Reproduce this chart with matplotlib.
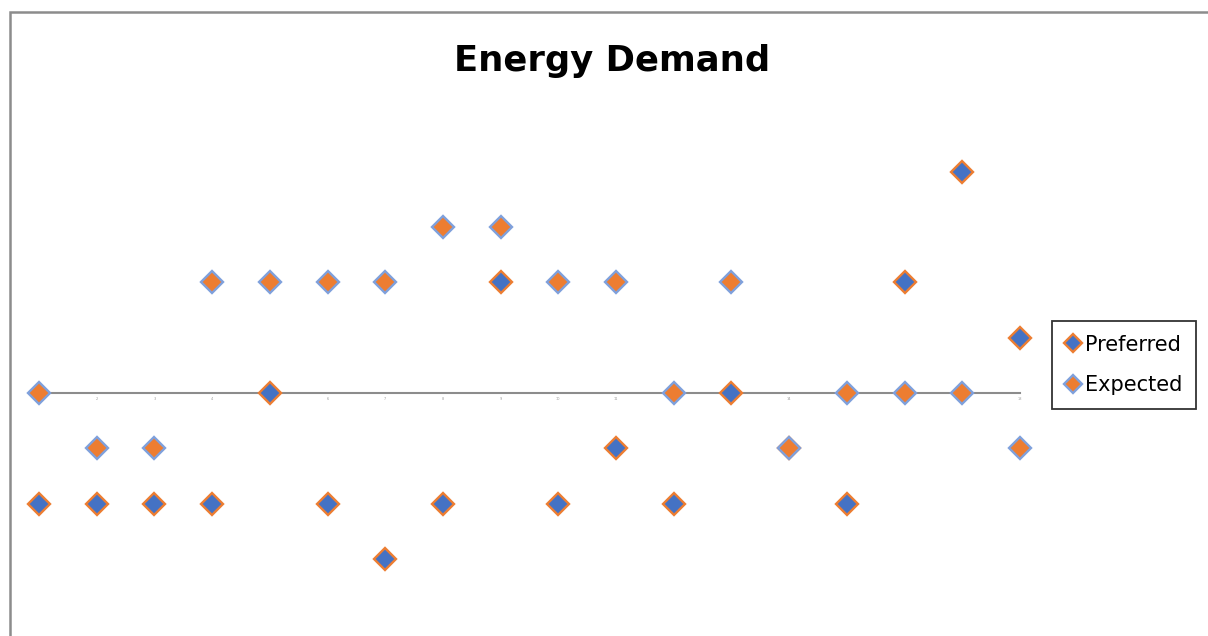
import matplotlib
matplotlib.use("Agg")
import matplotlib.pyplot as plt
from matplotlib.patches import Rectangle
import numpy as np

# Dados
x_vals = list(range(1, 19))
preferred = [-2, -2, -2, -2, 0, -2, -3, -2, 2, -2, -1, -2, 0, -1, -2, 2, 4, 1]
expected = [0, -1, -1, 2, 2, 2, 2, 3, 3, 2, 2, 0, 2, -1, 0, 0, 0, -1]

blue = "#4472C4"
orange = "#ED7D31"
light_blue = "#7FA0DC"

W, H = 1208, 636
fig = plt.figure(figsize=(W / 100, H / 100), dpi=100)

# eixo posicionado em pixels: x=1 em 39px, x=18 em 1020px, y=0 em 393px, 55.3px por unidade
x0, x1 = 39, 1020
y0_px, unit = 393, 55.3
ax = fig.add_axes([x0 / W, 0, (x1 - x0) / W, 1])
ax.set_xlim(1, 18)
ax.set_ylim(-(H - y0_px) / unit, y0_px / unit)

ax.plot(x_vals, preferred, linestyle="none", marker="D", markersize=11.5,
        markerfacecolor=blue, markeredgecolor=orange, markeredgewidth=1.7,
        label="Preferred", clip_on=False, zorder=3)
ax.plot(x_vals, expected, linestyle="none", marker="D", markersize=11.5,
        markerfacecolor=orange, markeredgecolor=light_blue, markeredgewidth=1.7,
        label="Expected", clip_on=False, zorder=4)

for s in ["top", "right", "left"]:
    ax.spines[s].set_visible(False)
ax.spines["bottom"].set_position(("data", 0))
ax.spines["bottom"].set_color("#8c8c8c")
ax.spines["bottom"].set_linewidth(1.5)
ax.set_yticks([])
ax.set_xticks(x_vals)
ax.set_xticklabels([str(v) for v in x_vals], fontsize=2.5, color="#999999")
ax.tick_params(axis="x", length=0, pad=3)
ax.patch.set_visible(False)

fig.text(612 / W, 1 - 61 / H, "Energy Demand", ha="center", va="center",
         fontsize=25.5, fontweight="bold", color="black")

leg = fig.legend(loc="center", bbox_to_anchor=(1124 / W, 1 - 365 / H),
                 fontsize=15, frameon=True, fancybox=False, edgecolor="black",
                 markerscale=0.8, handlelength=0.7, handletextpad=0.2,
                 labelspacing=1.0, borderpad=0.65, borderaxespad=0)
leg.get_frame().set_linewidth(1.3)

# borda da área do gráfico (cortada à direita e embaixo)
fig.patches.append(Rectangle((10 / W, -0.1), 1.2, 1 - 12 / H + 0.1,
                             transform=fig.transFigure, fill=False,
                             edgecolor="#8c8c8c", linewidth=1.8, zorder=0))

fig.savefig("out.png", dpi=100)
